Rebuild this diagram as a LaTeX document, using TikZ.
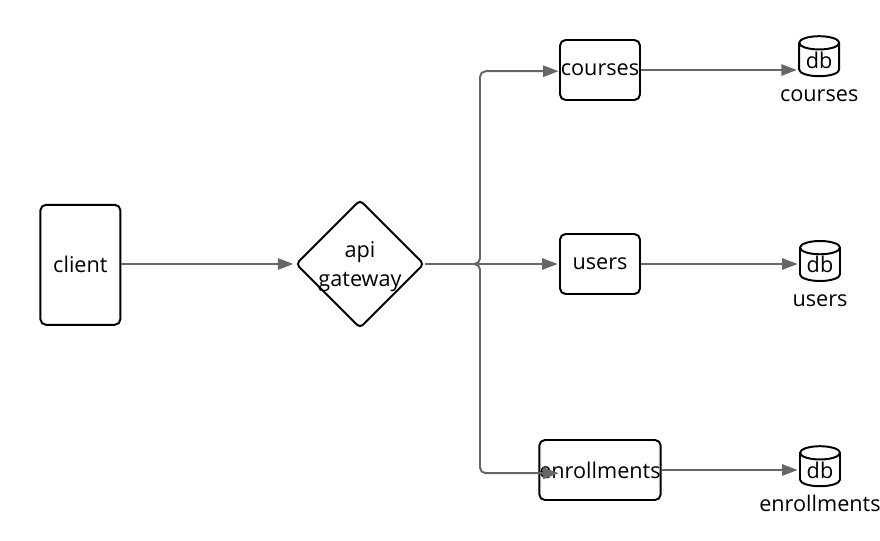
\documentclass[tikz,border=0pt]{standalone}
\usepackage{fontspec}
\setmainfont{Open Sans}
\usetikzlibrary{arrows.meta,positioning,shapes.geometric}
\definecolor{edgegray}{HTML}{666666}
\tikzset{
  box/.style={draw,line width=1.4pt,rounded corners=4pt,minimum width=2cm,minimum height=1.5cm,inner sep=0},
  gate/.style={draw,diamond,line width=1.4pt,rounded corners=3pt,minimum width=2cm,minimum height=2.1cm,inner sep=0,align=center,text depth=0},
  dbnode/.style={draw,cylinder,shape border rotate=90,aspect=.5,line width=1.4pt,minimum width=1cm,minimum height=1cm,inner sep=0},
  dblabel/.style={inner sep=0,text height=.36cm,text depth=.02cm},
  edge/.style={draw=edgegray,line width=1.4pt,rounded corners=4pt,-{Triangle[length=11pt,width=8pt]},shorten >=1pt},
}
\begin{document}
\begin{tikzpicture}[font=\fontsize{15.4pt}{21pt}\selectfont]
\useasboundingbox (0,0) rectangle (22,-13.5);
\node[box,minimum height=3cm] (client) at (2.01,-6.62) {client};
\node[gate] (gateway) at (9,-6.6) {api\\gateway};
\node[box] (courses) at (15,-1.75) {courses};
\node[box] (users) at (15,-6.6) {users};
\node[box] (enrollments) at (15,-11.75) {enrollments};
\node[dbnode] (dbcourses) at (20.48,-1.5) {db};
\node[dbnode] (dbusers) at (20.5,-6.62) {db};
\node[dbnode] (dbenrollments) at (20.5,-11.75) {db};
\node[dblabel,below=.25cm of dbcourses] (lblcourses) {courses};
\node[dblabel,below=.25cm of dbusers] (lblusers) {users};
\node[dblabel,below=.25cm of dbenrollments] (lblenrollments) {enrollments};
\coordinate (bus) at (12,-6.6);
\coordinate (intocourses) at (14,-1.78);
\coordinate (intoenrollments) at (14,-11.83);
\draw[edge] (client.east |- gateway.west) -- (gateway.west);
\draw[edge] (gateway.east) -- (bus) |- (intocourses);
\draw[edge] (gateway.east) -- (users.west);
\draw[edge] (gateway.east) -- (bus) |- (intoenrollments);
\draw[edge] (courses.east) -- (courses.east -| dbcourses.west);
\draw[edge] (users.east) -- (users.east -| dbusers.west);
\draw[edge] (enrollments.east) -- (dbenrollments.west);
\end{tikzpicture}
\end{document}
